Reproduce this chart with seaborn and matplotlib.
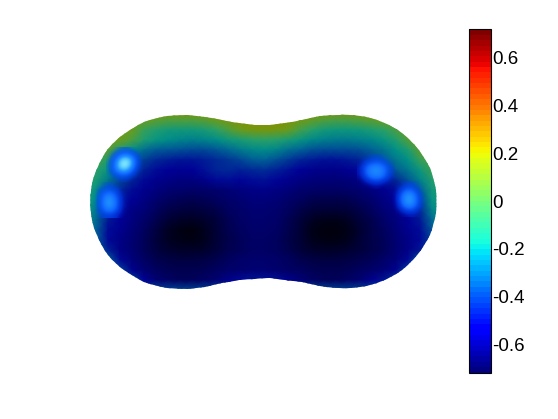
import numpy as np
import matplotlib
matplotlib.use("Agg")
import matplotlib.pyplot as plt
from matplotlib.colors import LinearSegmentedColormap, ListedColormap, Normalize
from matplotlib.cm import ScalarMappable
from matplotlib.path import Path
from matplotlib.transforms import Affine2D
import seaborn as sns

# Apparent (lit) surface tone, 0 = black core, 9 = olive rim.
surface_rows = [
 [8,8,8,8,9,9,9,9,9,9,9,9,9,9,9,9,9,9,9,9,9,9,9,9,9,9,9,8,8,8,8],
 [8,8,8,8,8,8,7.8,7.6,7.6,7.6,7.7,8,8.5,8.8,9,9,9,8.8,8.3,7.9,7.6,7.5,7.5,7.6,7.8,8,8.3,8,8,8,8],
 [8,8,8,8,8,7.2,6.8,6.5,6.4,6.4,6.6,7,7.5,8,8.4,8.5,8.4,8,7.4,6.9,6.5,6.3,6.3,6.4,6.7,7,7.5,8,8,8,8],
 [8,8,8,8,7.5,6.7,6.2,5.9,5.7,5.6,5.7,5.9,6.3,6.6,6.9,7,6.9,6.6,6.2,5.8,5.6,5.5,5.5,5.6,5.8,6.2,6.8,7.6,8,8,8],
 [8,8,7.7,6.8,6,5.3,4.9,4.8,4.7,4.6,4.6,4.8,5.1,5.5,5.8,5.9,5.7,5.3,5,4.7,4.6,4.6,4.6,4.7,5,5.4,6,6.7,7.8,8,8],
 [7.5,7.5,6.8,5.8,4.9,4.4,4,3.7,3.5,3.5,3.7,4,4.2,4.5,4.9,5,4.7,4.3,3.9,3.6,3.4,3.4,3.6,3.9,4.4,5,5.5,6,7.2,7.5,7.5],
 [7.3,7,6.2,5.3,4.5,3.8,3.3,3,2.9,3,3.4,3.9,4,3.8,4,4.1,3.8,3.4,3,2.8,2.7,2.7,2.9,3.2,3.7,4.3,4.9,5.5,6.3,7.3,7.5],
 [7,6.6,5.5,4.6,3.9,3.2,2.8,2.6,2.4,2.4,2.7,3.2,3.3,3.1,3.3,3.4,3.1,2.8,2.5,2.3,2.2,2.2,2.3,2.5,2.9,3.3,4,4.8,5.7,6.8,7],
 [6.8,6.2,4.9,4,3.3,2.8,2.4,2.1,2,1.9,1.9,2,2.2,2.4,2.6,2.7,2.5,2.3,2,1.9,1.8,1.8,1.9,2.1,2.4,2.8,3.3,4,5,6.4,6.8],
 [6.6,6,4.4,3.5,3,2.5,2,1.7,1.5,1.4,1.5,1.7,1.9,2.1,2.3,2.3,2.2,1.9,1.7,1.4,1.3,1.3,1.4,1.7,2,2.5,3,3.6,4.5,6.1,6.6],
 [6.5,5.6,4,3.2,2.6,2.2,1.7,1.3,1.1,1,1.1,1.3,1.7,1.9,2.1,2.1,2,1.7,1.3,1,.9,.9,1,1.3,1.7,2.2,2.6,3.2,4,5.7,6.5],
 [6.3,5.2,3.6,3,2.4,1.9,1.4,.9,.6,.5,.7,1,1.5,1.8,2,2,1.9,1.5,1,.5,.3,.3,.5,1,1.4,1.9,2.4,3,3.6,5.2,6.3],
 [6,5,3.3,2.8,2.2,1.7,1.1,.5,.2,.1,.4,.9,1.4,1.7,1.9,1.9,1.8,1.4,.9,.3,.1,.1,.3,.8,1.3,1.7,2.2,2.8,3.3,4.8,6],
 [5.5,5,3.2,2.6,2.1,1.6,1,.5,.3,.2,.4,.9,1.3,1.6,1.8,1.8,1.7,1.3,.9,.4,.2,.2,.4,.9,1.3,1.6,2.1,2.6,3.2,4.4,5.5],
 [5,5,3.8,2.6,2.1,1.6,1.1,.8,.6,.6,.7,1,1.4,1.6,1.8,1.8,1.7,1.4,1,.7,.6,.6,.8,1,1.3,1.6,2.1,2.6,3.5,5,5],
 [5,5,5,3.2,2.3,1.8,1.4,1.2,1.1,1.1,1.2,1.4,1.7,1.9,2,2,1.9,1.7,1.4,1.2,1.1,1.1,1.2,1.4,1.6,1.9,2.3,3.2,5,5,5],
 [5,5,5,4.5,2.8,2.1,1.7,1.5,1.4,1.4,1.5,1.7,1.9,2,2.1,2.1,2,1.8,1.7,1.5,1.4,1.4,1.5,1.7,1.9,2.2,2.8,4.5,5,5,5],
 [5,5,5,5,4.5,3,2.1,1.8,1.6,1.6,1.8,2.1,2.7,3.2,3.5,3.5,3.4,2.8,2.2,1.8,1.6,1.6,1.8,2.1,2.8,3.5,4.5,5,5,5,5],
 [4.5]*31,
 [4.5]*31,
]

# Outline of the body, read in picture pixels.
outline_x = [89,92,101,115,133.5,155,178,197,213,230,247,262,277,293,310,330,348,371,392.5,411,425,434,437,
             434,425,411,392.5,371,348,330,310,293,277,262,247,230,213,197,178,155,133.5,115,101,92]
outline_y = [202,179.5,158.5,140.5,126.7,118,115,116,118.5,122,124.5,125.5,124.5,122,118,115,114.5,117.5,126,140,158,179,201.5,
             224,245,263,277,285.5,288.5,288,283.5,280.5,278.5,278,279,281.5,285,288,289,286,277.3,263.5,245.5,224.5]

# Specular glints, tone 0..1 on small local grids.
glint_a = [[0,0,.05,.1,.05,0,0],
           [0,.1,.35,.5,.4,.12,0],
           [0,.3,.7,.9,.75,.3,0],
           [.03,.4,.85,1,.8,.3,0],
           [.03,.35,.7,.8,.55,.15,0],
           [0,.12,.3,.35,.2,.03,0],
           [0,0,.03,.05,0,0,0]]
glint_b = [[0,0,.05,.05,0,0,0],
           [0,.1,.22,.22,.1,0,0],
           [0,.25,.48,.45,.22,.03,0],
           [0,.3,.6,.58,.3,.05,0],
           [0,.3,.6,.58,.3,.05,0],
           [0,.2,.42,.42,.22,.03,0],
           [0,.05,.15,.15,.07,0,0]]
glint_c = [[0,0,.03,.05,.03,0,0],
           [0,.08,.2,.25,.2,.08,0],
           [.03,.25,.45,.52,.45,.25,.03],
           [.05,.3,.52,.58,.52,.3,.05],
           [.03,.2,.4,.48,.42,.22,.03],
           [0,.05,.15,.2,.15,.05,0],
           [0,0,0,.03,0,0,0]]
glint_d = [[0,0,.05,.07,.03,0,0],
           [0,.08,.25,.28,.12,0,0],
           [0,.22,.5,.55,.3,.03,0],
           [0,.28,.6,.65,.38,.05,0],
           [0,.22,.52,.58,.35,.05,0],
           [0,.08,.25,.3,.15,0,0],
           [0,0,.03,.05,.02,0,0]]
glint_centres_x = [125, 112, 376, 411]
glint_centres_y = [165, 201, 172, 200]

bar_limit = 0.7165
bar_ticks = [-0.6, -0.4, -0.2, 0, 0.2, 0.4, 0.6]
bar_labels = ["-0.6", "-0.4", "-0.2", "0", "0.2", "0.4", "0.6"]

sns.set_style("white")
plt.rcParams["font.family"] = ["Liberation Sans", "DejaVu Sans"]

fig = plt.figure(figsize=(5.58, 4.19), dpi=100, facecolor="white")
ax = fig.add_axes([0, 0, 1, 1])

tone_colors = [(0,0,10),(0,0,60),(0,0,110),(0,0,150),(0,40,150),(0,95,150),
               (0,145,135),(40,160,105),(105,155,30),(130,145,0)]
tone_cmap = LinearSegmentedColormap.from_list(
    "tone", [tuple(c/255 for c in t) for t in tone_colors], N=256)
glint_cmap = LinearSegmentedColormap.from_list("glint", [
    (0.0, (0/255, 60/255, 255/255, 0.0)),
    (0.1, (0/255, 70/255, 255/255, 0.55)),
    (0.35, (15/255, 100/255, 255/255, 1.0)),
    (0.6, (30/255, 145/255, 255/255, 1.0)),
    (1.0, (150/255, 255/255, 255/255, 1.0))], N=256)

# Smooth closed outline: quadratic segments through the midpoints of the read points.
pts = np.column_stack([outline_x, outline_y]).astype(float)
mids = (pts + np.roll(pts, -1, axis=0)) / 2
verts = [mids[-1]]
codes = [Path.MOVETO]
for p, m in zip(pts, mids):
    verts += [p, m]
    codes += [Path.CURVE3, Path.CURVE3]
clip = Path(np.array(verts), codes)

surface = np.array(surface_rows, dtype=float)
sns.heatmap(surface, ax=ax, cmap=tone_cmap, vmin=0, vmax=9, cbar=False,
            xticklabels=False, yticklabels=False, shading="gouraud",
            transform=Affine2D().scale(12, 10).translate(84, 110) + ax.transData)
artists = [ax.collections[-1]]
for g, cx, cy in zip([glint_a, glint_b, glint_c, glint_d],
                     glint_centres_x, glint_centres_y):
    im = ax.imshow(np.array(g), cmap=glint_cmap, vmin=0, vmax=1, aspect="auto",
                   interpolation="bicubic", zorder=3,
                   extent=(cx - 19, cx + 19, cy + 17.5, cy - 17.5))
    artists.append(im)

ax.set_xlim(0, 558)
ax.set_ylim(419, 0)
ax.axis("off")
for a in artists:
    a.set_clip_path(clip, transform=ax.transData)

cax = fig.add_axes([469/558, 1-372.5/419, 21.5/558, 343/419])
jet64 = ListedColormap(plt.get_cmap("jet")(np.linspace(0, 1, 64)))
cb = fig.colorbar(ScalarMappable(Normalize(-bar_limit, bar_limit), jet64), cax=cax)
cb.set_ticks(bar_ticks)
cb.set_ticklabels(bar_labels)
cb.outline.set_linewidth(0.8)
cb.outline.set_edgecolor("black")
cb.minorticks_off()
cax.tick_params(axis="y", which="major", direction="in", left=True, right=True,
                length=4.5, width=0.7, color="black", labelsize=13.5, pad=1.5, labelcolor="black")
for t in cax.yaxis.get_major_ticks():
    t.tick1line.set_markersize(2.5)

fig.savefig("out.png", dpi=100, facecolor="white")
